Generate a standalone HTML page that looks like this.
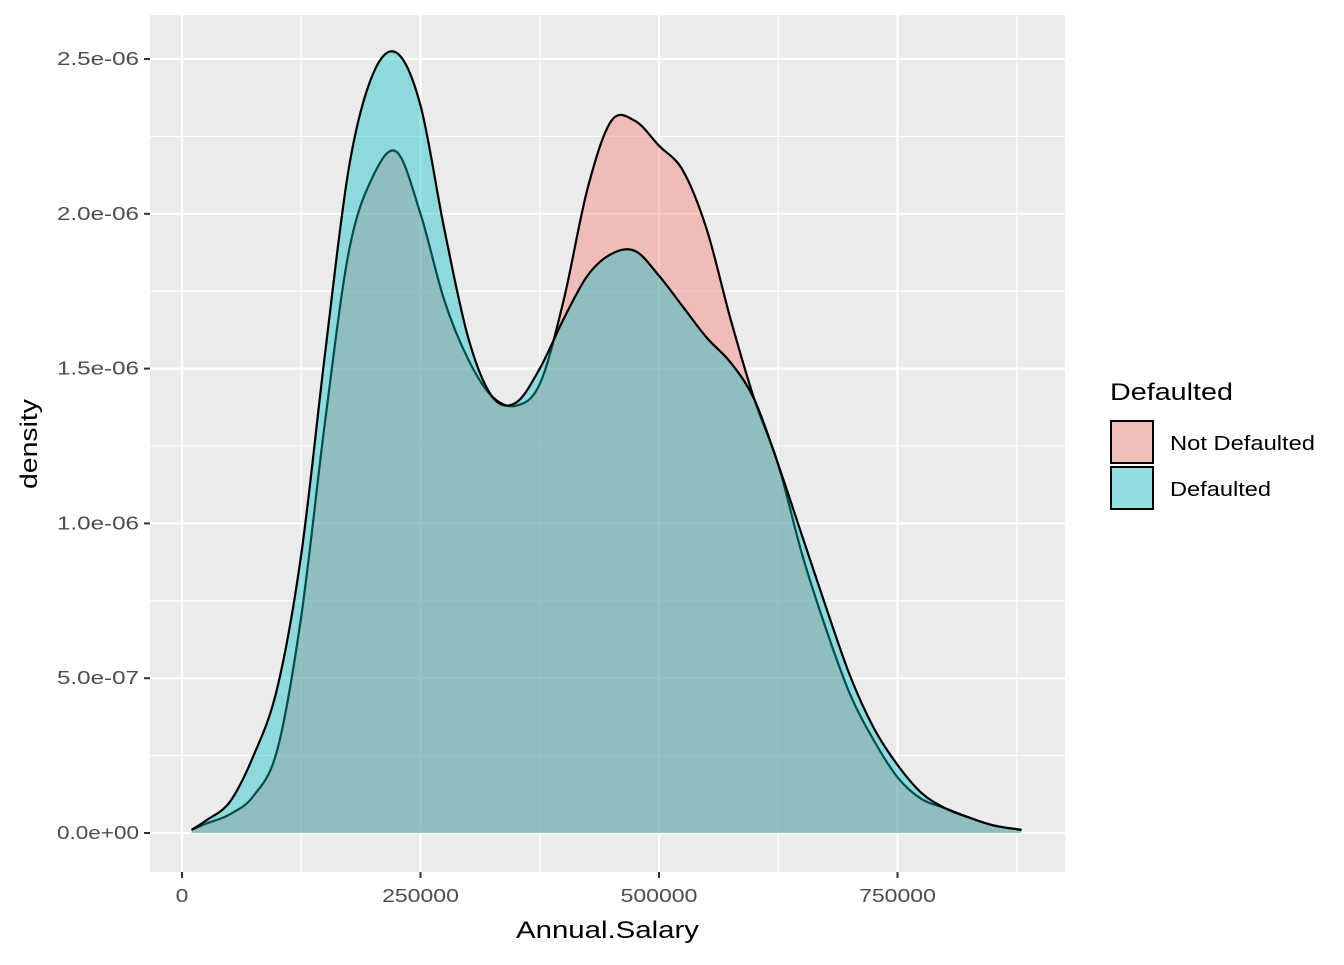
<!DOCTYPE html>
<html><head><meta charset="utf-8"><style>
body{margin:0;background:#fff;}
svg text{font-family:"Liberation Sans",sans-serif;}
</style></head><body>
<svg id="chart" width="1344" height="960" xmlns="http://www.w3.org/2000/svg">
<rect x="150" y="15" width="915" height="857" fill="#EBEBEB"/>
<g id="grid"></g>
<g id="series"></g>
<g id="axes"></g>
<text x="516" y="938" font-size="24" textLength="183" lengthAdjust="spacingAndGlyphs">Annual.Salary</text>
<text transform="translate(37,489) rotate(-90)" font-size="24" textLength="90" lengthAdjust="spacingAndGlyphs">density</text>
<g>
<text x="1110" y="400" font-size="24" textLength="123" lengthAdjust="spacingAndGlyphs">Defaulted</text>
<rect x="1111" y="421" width="42" height="42" fill="#F1BEB9" stroke="#000" stroke-width="2"/>
<text x="1170" y="450" font-size="20" textLength="145" lengthAdjust="spacingAndGlyphs">Not Defaulted</text>
<rect x="1111" y="467" width="42" height="42" fill="#91DEE0" stroke="#000" stroke-width="2"/>
<text x="1170" y="496" font-size="20" textLength="101" lengthAdjust="spacingAndGlyphs">Defaulted</text>
</g>
</svg>
<script>
const xs = [10,25,50,75,100,125,150,175,200,225,250,275,300,325,350,375,400,425,450,475,500,525,550,575,600,625,650,675,700,725,750,775,800,825,850,880];
const notDefaulted = [0.01,0.03,0.06,0.12,0.27,0.7,1.33,1.88,2.12,2.2,2.0,1.72,1.53,1.41,1.38,1.45,1.72,2.08,2.3,2.3,2.22,2.14,1.95,1.66,1.4,1.19,0.9,0.66,0.45,0.3,0.18,0.11,0.08,0.05,0.025,0.01];
const defaulted = [0.01,0.04,0.1,0.25,0.47,0.9,1.55,2.15,2.45,2.52,2.35,1.95,1.6,1.41,1.39,1.5,1.66,1.8,1.87,1.88,1.8,1.7,1.6,1.52,1.4,1.19,0.96,0.73,0.51,0.34,0.22,0.13,0.08,0.05,0.025,0.01];
const xTicks = [0,250000,500000,750000];
const xTickLabels = ["0","250000","500000","750000"];
const yTicks = [0,0.5,1.0,1.5,2.0,2.5];
const yTickLabels = ["0.0e+00","5.0e-07","1.0e-06","1.5e-06","2.0e-06","2.5e-06"];
const NS="http://www.w3.org/2000/svg";
function X(v){return 182+v*(238.5/250000);}
function Y(d){return 833-d*309.6;}
function mk(tag,attrs,parent){const e=document.createElementNS(NS,tag);for(const k in attrs)e.setAttribute(k,attrs[k]);parent.appendChild(e);return e;}
const grid=document.getElementById('grid');
for(let i=0;i<xTicks.length;i++){
  const l=mk('line',{x1:X(xTicks[i]),x2:X(xTicks[i]),y1:15,y2:872,stroke:'#fff','stroke-width':2.2},grid);
  
  
  const m=mk('line',{x1:X(xTicks[i]+125000),x2:X(xTicks[i]+125000),y1:15,y2:872,stroke:'#fff','stroke-width':1.1},grid);
  
  
}
for(let i=0;i<yTicks.length;i++){
  const l=mk('line',{x1:150,x2:1065,y1:Y(yTicks[i]),y2:Y(yTicks[i]),stroke:'#fff','stroke-width':2.2},grid);
  
  
  if(i<yTicks.length-1){
    const m=mk('line',{x1:150,x2:1065,y1:Y(yTicks[i]+0.25),y2:Y(yTicks[i]+0.25),stroke:'#fff','stroke-width':1.1},grid);
    
    
  }
}
function pathFor(vals){
  const p=xs.map((x,i)=>[X(x*1000),Y(vals[i])]);
  let d='M'+p[0][0]+','+p[0][1];
  for(let i=0;i<p.length-1;i++){
    const p0=p[Math.max(i-1,0)],p1=p[i],p2=p[i+1],p3=p[Math.min(i+2,p.length-1)];
    const c1=[p1[0]+(p2[0]-p0[0])/6,p1[1]+(p2[1]-p0[1])/6];
    const c2=[p2[0]-(p3[0]-p1[0])/6,p2[1]-(p3[1]-p1[1])/6];
    d+=' C'+c1[0]+','+c1[1]+' '+c2[0]+','+c2[1]+' '+p2[0]+','+p2[1];
  }
  return d;
}
const series=document.getElementById('series');
[[notDefaulted,'#F8766D','not-defaulted'],[defaulted,'#00BFC4','defaulted']].forEach(s=>{
  const line=pathFor(s[0]);
  const f=mk('path',{d:line+' L'+X(xs[xs.length-1]*1000)+','+Y(0)+' L'+X(xs[0]*1000)+','+Y(0)+' Z',fill:s[1],'fill-opacity':0.4,stroke:'none'},series);
  
  
  const o=mk('path',{d:line,fill:'none',stroke:'#000','stroke-width':2.2},series);
  
  
});
const axes=document.getElementById('axes');
for(let i=0;i<xTicks.length;i++){
  const t=mk('line',{x1:X(xTicks[i]),x2:X(xTicks[i]),y1:872,y2:878,stroke:'#333','stroke-width':2},axes);
  
  
  const tx=mk('text',{x:X(xTicks[i]),y:902,'font-size':18,fill:'#4D4D4D','text-anchor':'middle',textLength:xTickLabels[i].length*12.8,lengthAdjust:'spacingAndGlyphs'},axes);
  tx.textContent=xTickLabels[i];
  
  
}
for(let i=0;i<yTicks.length;i++){
  const t=mk('line',{x1:144,x2:150,y1:Y(yTicks[i]),y2:Y(yTicks[i]),stroke:'#333','stroke-width':2},axes);
  
  
  const tx=mk('text',{x:139,y:Y(yTicks[i])+6,'font-size':18,fill:'#4D4D4D','text-anchor':'end',textLength:82,lengthAdjust:'spacingAndGlyphs'},axes);
  tx.textContent=yTickLabels[i];
  
  
}
</script>
</body></html>
